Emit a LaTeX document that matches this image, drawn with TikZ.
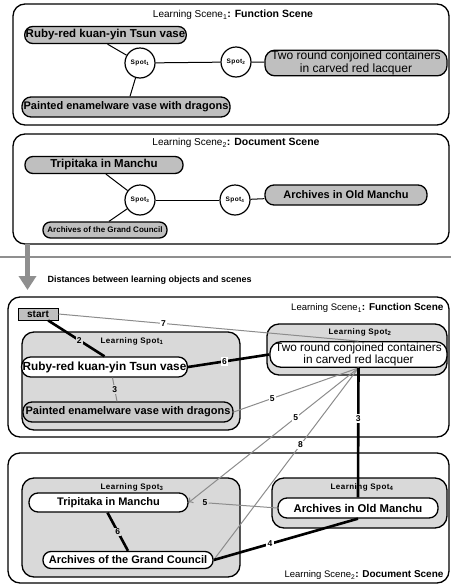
\documentclass[tikz,border=0pt]{standalone}
\usepackage{fontspec}
\setmainfont{Liberation Sans}
\newfontfamily\spotfont[LetterSpace=6]{Liberation Sans}
\usetikzlibrary{arrows.meta}

\newcommand\fsz[1]{\fontsize{#1}{#1}\selectfont}

\definecolor{pillgray}{HTML}{BFBFBF}
\definecolor{pilllight}{HTML}{C8C8C8}
\definecolor{spotgray}{HTML}{D9D9D9}
\definecolor{linegray}{HTML}{8C8C8C}
\definecolor{arrowgray}{HTML}{8F8F8F}

\tikzset{
  panel/.style={draw, line width=1.3pt, rounded corners=12pt},
  spotbox/.style={draw, line width=1.3pt, rounded corners=12pt, fill=spotgray},
  pill/.style={draw, line width=1.3pt, rounded corners=8pt, inner sep=1pt},
  spotc/.style={circle, draw, line width=1.2pt, fill=white, minimum size=30pt,
                inner sep=0pt, font=\spotfont\bfseries\fsz{6.5}},
  spotlbl/.style={font=\spotfont\bfseries\fsz{8}, inner sep=1pt},
  thinlink/.style={line width=1pt},
  thickedge/.style={line width=2.6pt},
  greyedge/.style={draw=linegray, line width=1pt},
  elabel/.style={font=\bfseries\fsz{8.5}, fill=white, inner sep=1.2pt},
}

\begin{document}
\begin{tikzpicture}[x=1pt, y=-1pt]
\useasboundingbox (0,0) rectangle (451,584);

% ---------- Learning scene 1 (function scene) ----------
\draw[panel] (13,4) rectangle (449,125);
\node (title1) at (233,15) {\fsz{10}Learning Scene\textsubscript{1}\bfseries\fsz{10.5}: Function Scene};

\node[pill, fill=pillgray, minimum width=157pt, minimum height=17pt,
      font=\bfseries\fsz{11.5}] (ruby1) at (105.5,35) {Ruby-red kuan-yin Tsun vase};
\node[spotc] (s1) at (140,63) {Spot\textsubscript{1}};
\node[spotc] (s2) at (236,62) {Spot\textsubscript{2}};
\node[pill, fill=pillgray, minimum width=182pt, minimum height=24pt, rounded corners=10pt,
      align=center, font=\fontsize{12}{12.5}\selectfont] (two1) at (356,63)
      {Two round conjoined containers\\in carved red lacquer};
\node[pill, fill=pillgray, minimum width=208pt, minimum height=20pt, rounded corners=9pt,
      font=\bfseries\fsz{11}] (paint1) at (126,107) {Painted enamelware vase with dragons};

\draw[thinlink] ([xshift=2pt]ruby1.south) -- (s1);
\draw[thinlink] (s1) -- ([xshift=4pt]paint1.north);
\draw[thinlink] (s1) -- (s2);
\draw[thinlink] (s2) -- (two1);

% ---------- Learning scene 2 (document scene) ----------
\draw[panel] (13,134) rectangle (449,244);
\node (title2) at (236,143) {\fsz{10}Learning Scene\textsubscript{2}\bfseries\fsz{10.5}: Document Scene};

\node[pill, fill=pillgray, minimum width=158pt, minimum height=17pt,
      font=\bfseries\fsz{11.5}] (trip2) at (104,165) {Tripitaka in Manchu};
\node[spotc] (s3) at (140,200) {Spot\textsubscript{3}};
\node[spotc] (s4) at (235,200) {Spot\textsubscript{4}};
\node[pill, fill=pillgray, minimum width=162pt, minimum height=20pt, rounded corners=9pt,
      font=\bfseries\fsz{11}] (old2) at (346,195) {Archives in Old Manchu};
\node[pill, fill=pillgray, minimum width=124pt, minimum height=16pt, rounded corners=7.5pt,
      font=\bfseries\fsz{8}] (grand2) at (105,230) {Archives of the Grand Council};

\draw[thinlink] ([xshift=2pt]trip2.south) -- (s3);
\draw[thinlink] (s3) -- ([xshift=4pt]grand2.north);
\draw[thinlink] (s3) -- (s4);
\draw[thinlink] (s4) -- (old2);

% ---------- divider and transition arrow ----------
\draw[arrowgray, line width=1.8pt] (0,257) -- (451,257);
\draw[arrowgray, line width=5pt, -{Triangle[width=17pt,length=14pt]}] (27.5,244) -- (27.5,290);
\node[anchor=west, font=\bfseries\fsz{9}] (dist) at (44,280)
      {Distances between learning objects and scenes};

% ---------- distance graph: function scene ----------
\draw[panel] (8,297) rectangle (449,437);
\node[anchor=east] (title3) at (447,308)
      {\fsz{9.5}Learning Scene\textsubscript{1}\bfseries\fsz{10}: Function Scene};

\draw[spotbox] (22,332) rectangle (240,430);
\draw[spotbox] (267,324) rectangle (447,375);
\node[spotlbl] (ls1) at (132,341) {Learning Spot\textsubscript{1}};
\node[spotlbl] (ls2) at (360,332) {Learning Spot\textsubscript{2}};

\node[draw, fill=pillgray, line width=1pt, minimum width=40pt, minimum height=12pt,
      inner sep=0pt, font=\bfseries\fsz{10}] (start) at (38,314) {start};
\node[pill, fill=white, minimum width=157pt, minimum height=20pt, rounded corners=9pt,
      font=\bfseries\fsz{11.8}] (ruby3) at (104.5,367) {Ruby-red kuan-yin Tsun vase};
\node[pill, fill=pilllight, minimum width=210pt, minimum height=20pt, rounded corners=9pt,
      font=\bfseries\fsz{11}] (paint3) at (128,412) {Painted enamelware vase with dragons};
\node[pill, fill=white, minimum width=177pt, minimum height=25pt, rounded corners=11pt,
      align=center, font=\fontsize{11.8}{12.5}\selectfont] (two3) at (358.5,354.5)
      {Two round conjoined containers\\in carved red lacquer};

% ---------- distance graph: document scene ----------
\draw[panel] (8,453) rectangle (449,583);
\node[anchor=east] (title4) at (447,575)
      {\fsz{9.5}Learning Scene\textsubscript{2}\bfseries\fsz{10}: Document Scene};

\draw[spotbox] (22,478) rectangle (240,577);
\draw[spotbox] (272,478) rectangle (447,528);
\node[spotlbl] (ls3) at (132,487) {Learning Spot\textsubscript{3}};
\node[spotlbl] (ls4) at (362,487) {Learning Spot\textsubscript{4}};

\node[pill, fill=white, minimum width=159pt, minimum height=19pt, rounded corners=9pt,
      font=\bfseries\fsz{11}] (trip3) at (108.5,502.5) {Tripitaka in Manchu};
\node[pill, fill=white, minimum width=170pt, minimum height=17pt, rounded corners=8pt,
      font=\bfseries\fsz{11}] (grand3) at (128,560) {Archives of the Grand Council};
\node[pill, fill=white, minimum width=160pt, minimum height=20pt, rounded corners=9pt,
      font=\bfseries\fsz{11.3}] (old3) at (358,508) {Archives in Old Manchu};

% ---------- distances ----------
\draw[greyedge] (start.east) -- node[elabel, pos=0.35] {7} (two3.north);
\draw[greyedge] ([xshift=8pt]ruby3.south) -- node[elabel, fill=spotgray, pos=0.5] {3}
      ([xshift=-11pt]paint3.north);
\draw[greyedge] (paint3.east) -- node[elabel, pos=0.31] {5} (two3.south);
\draw[greyedge, -{To[length=4pt,width=7pt]}] (two3.south) -- node[elabel, pos=0.37] {5} (trip3.east);
\draw[greyedge] (two3.south) -- node[elabel, pos=0.40] {8} (grand3.east);
\node[elabel, fill=spotgray] (l5) at (205,503) {5};
\draw[greyedge] (old3.west) -- (l5.east);

\draw[thickedge] (start) -- node[elabel, fill=spotgray, pos=0.55] {2} (ruby3.north);
\draw[thickedge] (ruby3.east) -- node[elabel, pos=0.45] {6} (two3.west);
\draw[thickedge] (two3.south) -- node[elabel, pos=0.39] {3} (old3.north);
\draw[thickedge] (old3.south) -- node[elabel, pos=0.61] {4} (grand3.east);
\draw[thickedge] ([xshift=-1pt]trip3.south) -- node[elabel, fill=spotgray, pos=0.5] {6}
      (grand3.north);
\end{tikzpicture}
\end{document}
